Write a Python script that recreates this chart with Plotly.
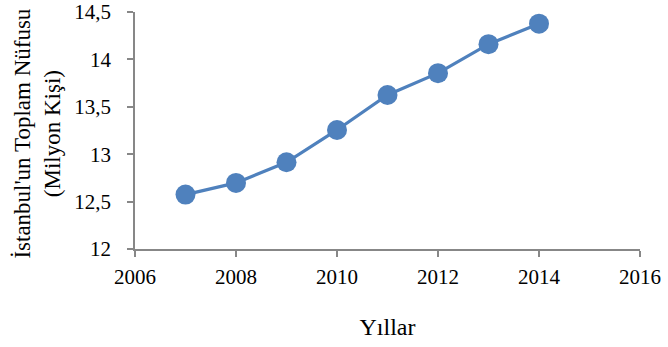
import plotly.graph_objects as go

years = [2007, 2008, 2009, 2010, 2011, 2012, 2013, 2014]
population = [12.573836, 12.697164, 12.915158, 13.255685, 13.624240, 13.854740, 14.160467, 14.377018]

x_ticks = [2006, 2008, 2010, 2012, 2014, 2016]
y_ticks = [12, 12.5, 13, 13.5, 14, 14.5]
y_tick_labels = ["12", "12,5", "13", "13,5", "14", "14,5"]

font_family = "Liberation Serif, Times New Roman, serif"
axis_color = "#878787"

fig = go.Figure()
fig.add_trace(go.Scatter(
    x=years, y=population, mode="lines+markers",
    line=dict(color="#4F81BD", width=3.2),
    marker=dict(color="#4F81BD", size=20),
    cliponaxis=False,
    showlegend=False,
))

fig.update_layout(
    width=668, height=347,
    margin=dict(l=135, r=28, t=12, b=98),
    plot_bgcolor="white", paper_bgcolor="white",
    font=dict(family=font_family, size=21, color="black"),
    xaxis=dict(
        range=[2006, 2016], tickvals=x_ticks, ticktext=[str(v) for v in x_ticks],
        showgrid=False, zeroline=False, showline=True, linecolor=axis_color, linewidth=1.5,
        ticks="outside", ticklen=6, tickcolor=axis_color, tickwidth=1.5,
        tickfont=dict(size=21), automargin=False, ticklabeloverflow="allow",
        ticklabelstandoff=2,
        title=dict(text="Yıllar", standoff=30, font=dict(size=24)),
    ),
    yaxis=dict(
        range=[12, 14.5], tickvals=y_ticks, ticktext=y_tick_labels,
        showgrid=False, zeroline=False, showline=True, linecolor=axis_color, linewidth=1.5,
        ticks="outside", ticklen=6, tickcolor=axis_color, tickwidth=1.5,
        tickfont=dict(size=21), automargin=False, ticklabeloverflow="allow",
        ticklabelstandoff=12,
    ),
    annotations=[dict(
        text="İstanbul'un Toplam Nüfusu<br>(Milyon Kişi)",
        xref="paper", yref="paper", x=-0.192, y=0.487,
        xanchor="center", yanchor="middle", textangle=-90,
        showarrow=False, font=dict(size=23), align="center",
    )],
)

fig.write_html("out.html")
